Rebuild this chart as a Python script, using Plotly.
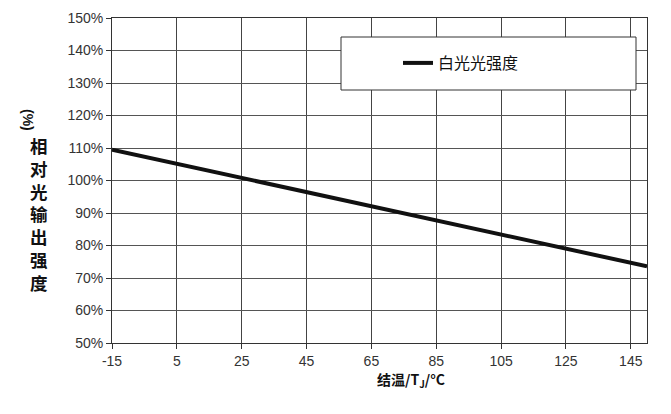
import plotly.graph_objects as go

temps = [-15, 150]
intensity = [109.5, 73.6]
x_ticks = [-15, 5, 25, 45, 65, 85, 105, 125, 145]
y_ticks = [50, 60, 70, 80, 90, 100, 110, 120, 130, 140, 150]
y_labels = [f"{v}%" for v in y_ticks]
series_name = "白光光强度"
y_title_chars = ["相", "对", "光", "输", "出", "强", "度"]

fig = go.Figure()
fig.add_trace(go.Scatter(x=temps, y=intensity, mode="lines", name=series_name,
                         line=dict(color="#111111", width=4), showlegend=True))

W, H = 671, 414
L, R, T, B = 112, 24, 18, 71
pw, ph = W - L - R, H - T - B

def px(xp):
    return (xp - L) / pw

def py(yp):
    return (H - B - yp) / ph

fig.update_layout(
    width=W, height=H,
    margin=dict(l=L, r=R, t=T, b=B, autoexpand=False),
    paper_bgcolor="white", plot_bgcolor="white",
    font=dict(family="Liberation Sans, Arial, sans-serif", color="#333333", size=14),
    xaxis=dict(range=[-15, 150], tickvals=x_ticks, ticktext=[str(v) for v in x_ticks],
               showgrid=True, gridcolor="#444444", gridwidth=1, automargin=False,
               showline=True, linecolor="#333333", linewidth=1, mirror=True,
               ticks="outside", ticklen=5, tickcolor="#333333", zeroline=False,
               tickfont=dict(size=14, color="#333333")),
    yaxis=dict(range=[50, 150], tickvals=y_ticks, ticktext=y_labels,
               showgrid=True, gridcolor="#555555", gridwidth=1, automargin=False,
               showline=True, linecolor="#333333", linewidth=1, mirror=True,
               ticks="outside", ticklen=5, tickcolor="#333333", zeroline=False,
               tickfont=dict(size=14, color="#333333")),
    legend=dict(x=px(398), y=py(63), xanchor="left", yanchor="middle",
                bgcolor="rgba(0,0,0,0)", borderwidth=0, itemwidth=30,
                font=dict(size=16, color="#111111",
                          family="Noto Sans CJK SC, sans-serif")),
    showlegend=True,
)

fig.add_shape(type="rect", xref="paper", yref="paper",
              x0=px(341), x1=px(636), y0=py(90), y1=py(37),
              fillcolor="white", line=dict(color="#333333", width=1), layer="above")

cjk = "Noto Sans CJK SC, sans-serif"
fig.add_annotation(dict(xref="paper", yref="paper", x=px(28), y=py(120), text="<b>(%)</b>",
                        textangle=90, showarrow=False, yanchor="middle", xanchor="center",
                        font=dict(size=14, color="#111111", family="Liberation Sans, sans-serif")))
fig.add_annotation(xref="paper", yref="paper", x=px(28), y=py(214),
                   text="<b>" + "<br>".join(y_title_chars) + "</b>", showarrow=False,
                   yanchor="middle", align="center",
                   font=dict(size=17.5, color="#111111", family=cjk))

fig.add_annotation(xref="paper", yref="paper", x=px(411), y=py(393),
                   text="<b>结温/T<sub>J</sub>/°C</b>", showarrow=False,
                   font=dict(size=14, color="#111111", family=cjk))

fig.write_html("out.html", config={"displayModeBar": False},
               post_script="document.body.style.margin='0px';")
